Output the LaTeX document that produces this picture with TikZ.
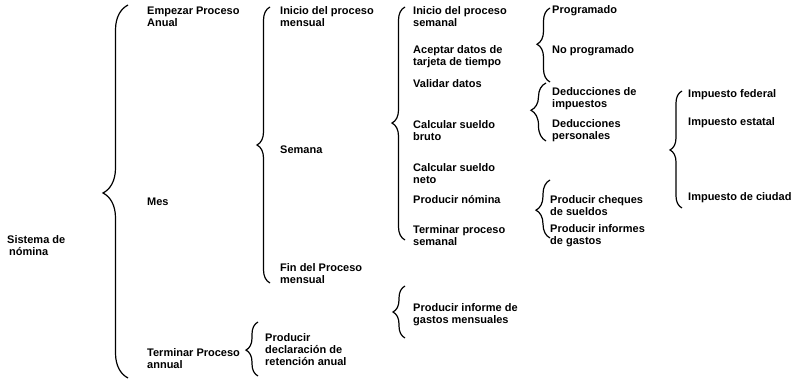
\documentclass[tikz,border=0pt]{standalone}
\usepackage{fontspec}
\setmainfont{Liberation Sans}
\usetikzlibrary{decorations.pathreplacing}
\begin{document}
\begin{tikzpicture}[x=1pt,y=-1pt,
  lbl/.style={anchor=west, inner sep=0pt, align=left, font=\fontsize{11}{12}\selectfont\bfseries},
  brc/.style 2 args={draw, line width=1.2pt, decorate, decoration={brace, amplitude=#1, aspect=#2}}]
\useasboundingbox[fill=white] (0,0) rectangle (800,382);
% level 0
\node[lbl] (sis) at (7,246) {Sistema de\\\hspace*{2pt}nómina};
% level 1
\node[lbl] (emp) at (147,16.5) {Empezar Proceso\\Anual};
\node[lbl] (mes) at (147,202) {Mes};
\node[lbl] (ter) at (147,359) {Terminar Proceso\\annual};
% level 2
\node[lbl] (inim) at (280,16.5) {Inicio del proceso\\mensual};
\node[lbl] (sem) at (280,150) {Semana};
\node[lbl] (fin) at (280,274) {Fin del Proceso\\mensual};
\node[lbl] (decl) at (265,350) {Producir\\declaración de\\retención anual};
% level 3
\node[lbl] (inis) at (413,16.5) {Inicio del proceso\\semanal};
\node[lbl] (acep) at (413,57) {Aceptar datos de\\tarjeta de tiempo};
\node[lbl] (vali) at (413,84) {Validar datos};
\node[lbl] (cbru) at (413,131) {Calcular sueldo\\bruto};
\node[lbl] (cnet) at (413,174) {Calcular sueldo\\neto};
\node[lbl] (pnom) at (413,200) {Producir nómina};
\node[lbl] (tsem) at (413,236) {Terminar proceso\\semanal};
\node[lbl] (pinf) at (413,315) {Producir informe de\\gastos mensuales};
% level 4
\node[lbl] (prog) at (552,11) {Programado};
\node[lbl] (nopr) at (552,51) {No programado};
\node[lbl] (dimp) at (552,98.5) {Deducciones de\\impuestos};
\node[lbl] (dper) at (552,131) {Deducciones\\personales};
\node[lbl] (pche) at (550,206) {Producir cheques\\de sueldos};
\node[lbl] (pinfg) at (550,236) {Producir informes\\de gastos};
% level 5
\node[lbl] (ifed) at (688,95) {Impuesto federal};
\node[lbl] (iest) at (688,123) {Impuesto estatal};
\node[lbl] (iciu) at (688,198) {Impuesto de ciudad};
% braces
\coordinate (b1t) at (128,5);   \coordinate (b1b) at (128,378);
\coordinate (b2t) at (270,7);   \coordinate (b2b) at (270,283);
\coordinate (b3t) at (258,322); \coordinate (b3b) at (258,376);
\coordinate (b4t) at (405,7);   \coordinate (b4b) at (405,240);
\coordinate (b5t) at (405,286); \coordinate (b5b) at (405,338);
\coordinate (b6t) at (550,8);   \coordinate (b6b) at (550,82);
\coordinate (b7t) at (546,83);  \coordinate (b7b) at (546,141);
\coordinate (b8t) at (550,180); \coordinate (b8b) at (550,238);
\coordinate (b9t) at (682,91);  \coordinate (b9b) at (682,208);
\draw[brc={25pt}{0.496}] (b1b) -- (b1t);
\draw[brc={13pt}{0.5}] (b2b) -- (b2t);
\draw[brc={12pt}{0.48}] (b3b) -- (b3t);
\draw[brc={13pt}{0.502}] (b4b) -- (b4t);
\draw[brc={12pt}{0.5}] (b5b) -- (b5t);
\draw[brc={13pt}{0.51}] (b6b) -- (b6t);
\draw[brc={15pt}{0.53}] (b7b) -- (b7t);
\draw[brc={14pt}{0.48}] (b8b) -- (b8t);
\draw[brc={12pt}{0.496}] (b9b) -- (b9t);
\end{tikzpicture}
\end{document}
